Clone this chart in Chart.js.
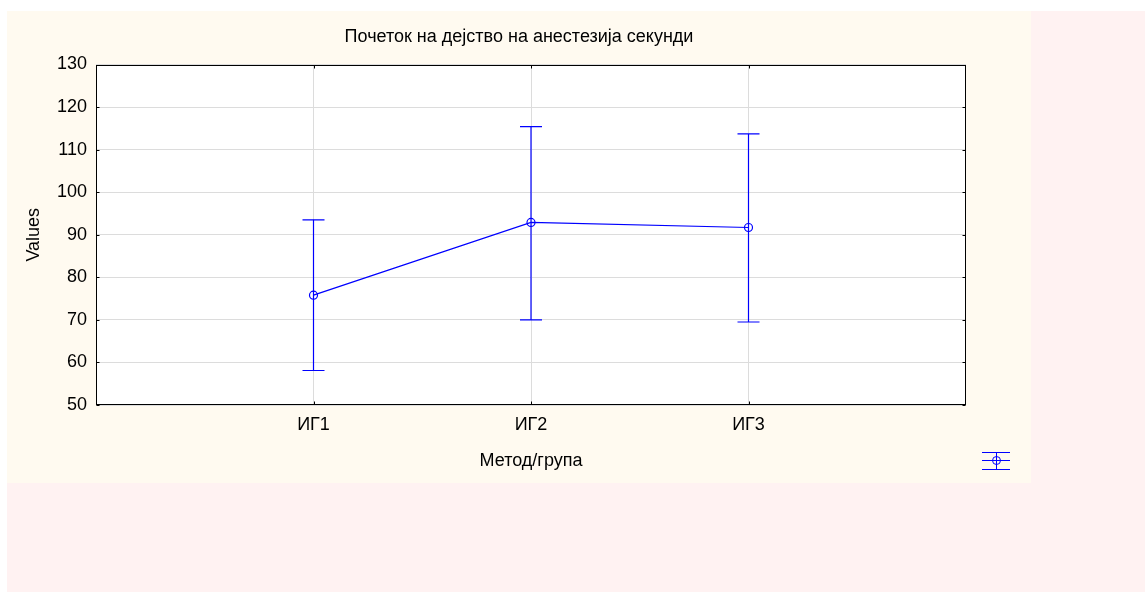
<!DOCTYPE html>
<html>
<head>
<meta charset="utf-8">
<script src="https://cdn.jsdelivr.net/npm/chart.js@4/dist/chart.umd.min.js"></script>
<style>
  html, body { margin: 0; padding: 0; background: #ffffff; }
  body { width: 1145px; height: 592px; position: relative; overflow: hidden; }
  #page { position: absolute; left: 7px; top: 11px; width: 1138px; height: 581px; background: #fff2f2; }
  #panel { position: absolute; left: 0; top: 0; width: 1024px; height: 472px; background: #fffaf0; }
</style>
</head>
<body>
<div id="page">
  <div id="panel"><canvas id="chart" width="1024" height="472"></canvas></div>
</div>
<script>
// Group means with their interval bounds (onset of anaesthesia, seconds)
const groups = ['ИГ1', 'ИГ2', 'ИГ3'];
const means = [75.8, 92.9, 91.7];
const upper = [93.5, 115.4, 113.7];
const lower = [58.1, 70.0, 69.5];
const yMin = 50, yMax = 130, yStep = 10;

const BLUE = '#0000ff';
const FONT = "'Liberation Sans', Arial, sans-serif";
const FS = 18;

const meanPoints = groups.map((g, i) => ({ x: i + 1, y: means[i] }));
// Whiskers: one segment per group, separated by gaps
const whiskerPoints = [];
groups.forEach((g, i) => {
  whiskerPoints.push({ x: i + 1, y: lower[i] });
  whiskerPoints.push({ x: i + 1, y: upper[i] });
  whiskerPoints.push({ x: i + 1, y: null });
});

const frame = {
  id: 'frame',
  beforeDraw(chart) {
    const { ctx, chartArea: a } = chart;
    ctx.save();
    ctx.fillStyle = '#ffffff';
    ctx.fillRect(a.left, a.top, a.right - a.left, a.bottom - a.top);
    ctx.restore();
  },
  afterDraw(chart) {
    const { ctx, chartArea: a, scales } = chart;
    const L = Math.round(a.left) + 0.5, R = Math.round(a.right) - 0.5;
    const T = Math.round(a.top) + 0.5, B = Math.round(a.bottom) - 0.5;
    ctx.save();
    ctx.strokeStyle = '#000000';
    ctx.lineWidth = 1;
    ctx.strokeRect(L, T, R - L, B - T);
    ctx.beginPath();
    scales.y.ticks.forEach(t => {
      const y = Math.round(scales.y.getPixelForValue(t.value)) + 0.5;
      ctx.moveTo(L, y); ctx.lineTo(L + 3, y);
      ctx.moveTo(R, y); ctx.lineTo(R - 3, y);
    });
    scales.x.ticks.forEach(t => {
      const x = Math.round(scales.x.getPixelForValue(t.value)) + 0.5;
      ctx.moveTo(x, B); ctx.lineTo(x, B - 3);
      ctx.moveTo(x, T); ctx.lineTo(x, T + 3);
    });
    ctx.stroke();

    // legend symbol
    const cx = 989.5, x0 = 975, x1 = 1003;
    ctx.strokeStyle = BLUE;
    ctx.beginPath();
    ctx.moveTo(x0, 441.5); ctx.lineTo(x1, 441.5);
    ctx.moveTo(x0, 458.5); ctx.lineTo(x1, 458.5);
    ctx.moveTo(x0, 449.5); ctx.lineTo(x1, 449.5);
    ctx.moveTo(cx, 441.5); ctx.lineTo(cx, 458.5);
    ctx.stroke();
    ctx.beginPath();
    ctx.arc(cx, 449.5, 4, 0, Math.PI * 2);
    ctx.stroke();
    ctx.restore();
  }
};

new Chart(document.getElementById('chart'), {
  type: 'scatter',
  data: {
    datasets: [
      {
        label: 'interval',
        data: whiskerPoints,
        showLine: true,
        spanGaps: false,
        borderColor: BLUE,
        borderWidth: 1.2,
        pointStyle: 'line',
        pointRadius: 11,
        pointBorderColor: BLUE,
        pointBorderWidth: 1.2,
        pointHoverRadius: 11
      },
      {
        label: 'mean',
        data: meanPoints,
        showLine: true,
        borderColor: BLUE,
        borderWidth: 1.2,
        pointStyle: 'circle',
        pointRadius: 4,
        pointBorderColor: BLUE,
        pointBackgroundColor: 'rgba(0,0,0,0)',
        pointBorderWidth: 1.2,
        pointHoverRadius: 4
      }
    ]
  },
  options: {
    responsive: false,
    animation: false,
    events: [],
    layout: { padding: 0 },
    plugins: {
      legend: { display: false },
      tooltip: { enabled: false },
      title: {
        display: true,
        text: 'Почеток на дејство на анестезија секунди',
        color: '#000000',
        font: { family: FONT, size: FS, weight: 'normal' },
        padding: { top: 15.4, bottom: 16.5 }
      }
    },
    scales: {
      x: {
        type: 'linear',
        min: 0,
        max: groups.length + 1,
        afterBuildTicks(axis) { axis.ticks = groups.map((g, i) => ({ value: i + 1 })); },
        afterFit(axis) { axis.height = 78; },
        ticks: {
          color: '#000000',
          font: { family: FONT, size: FS },
          padding: 9,
          maxRotation: 0,
          callback: v => groups[v - 1]
        },
        grid: { color: '#dcdcdc', lineWidth: 1, drawTicks: false },
        border: { display: false },
        title: {
          display: true,
          text: 'Метод/група',
          color: '#000000',
          font: { family: FONT, size: FS },
          padding: { top: 0, bottom: 11 }
        }
      },
      y: {
        min: yMin,
        max: yMax,
        afterFit(axis) { axis.width = 89; },
        ticks: {
          stepSize: yStep,
          color: '#000000',
          font: { family: FONT, size: FS },
          padding: 9
        },
        grid: { color: '#dcdcdc', lineWidth: 1, drawTicks: false },
        border: { display: false },
        title: {
          display: true,
          text: 'Values',
          color: '#000000',
          font: { family: FONT, size: FS },
          padding: { top: 16, bottom: 0 }
        }
      },
      yRight: {
        position: 'right',
        display: true,
        min: yMin,
        max: yMax,
        afterFit(axis) { axis.width = 65; },
        ticks: { display: false },
        grid: { display: false, drawTicks: false },
        border: { display: false }
      }
    }
  },
  plugins: [frame]
});
</script>
</body>
</html>
